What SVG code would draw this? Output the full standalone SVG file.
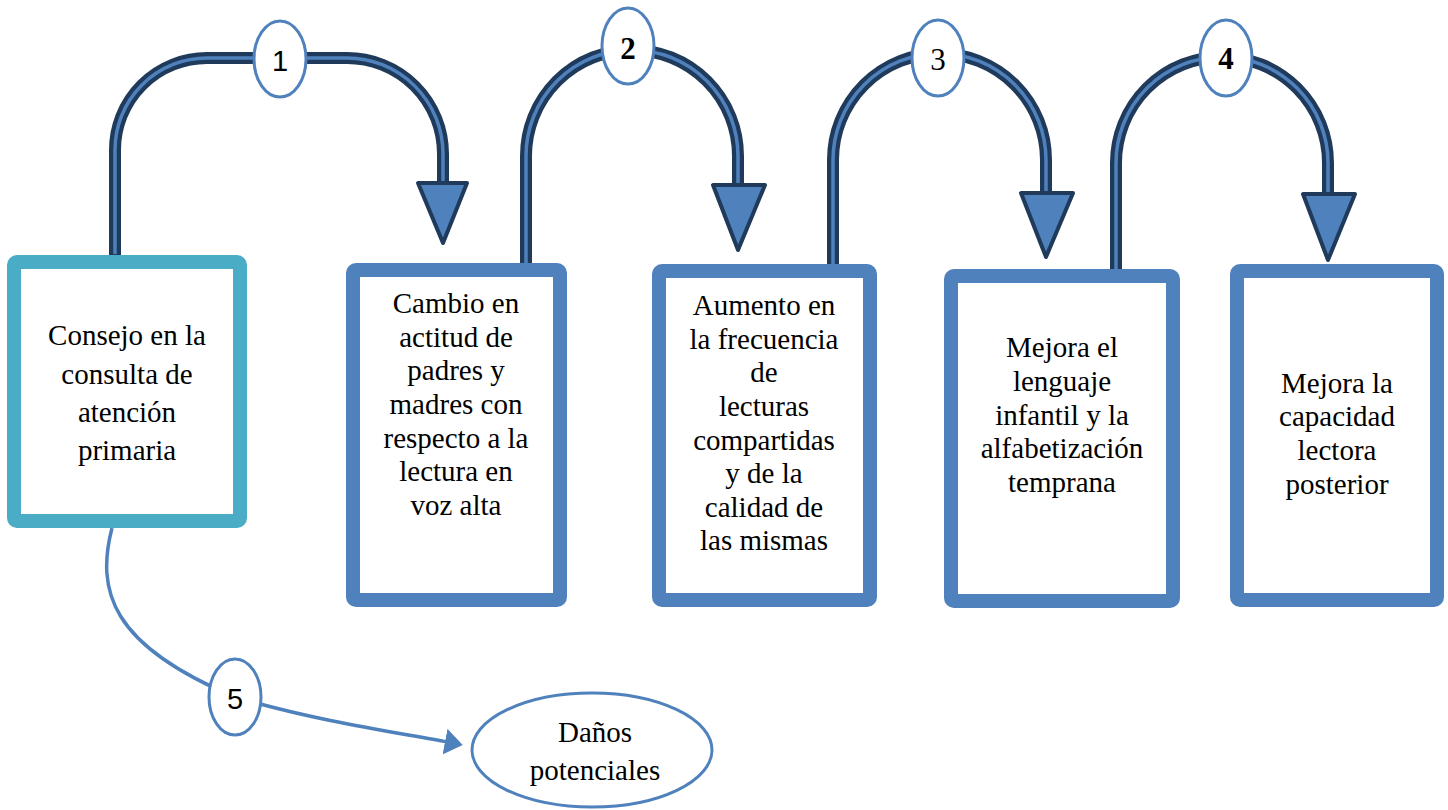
<svg xmlns="http://www.w3.org/2000/svg" width="1448" height="810" viewBox="0 0 1448 810">
<style>
.shaft{fill:none;stroke:#1F3A5A;stroke-width:12;}
.core{fill:none;stroke:#4F81BD;stroke-width:3.5;}
.head{fill:#4F81BD;stroke:#1F3A5A;stroke-width:4;stroke-linejoin:round;}
.box{fill:#fff;stroke:#4F81BD;stroke-width:14;}
.box1{fill:#fff;stroke:#4BACC6;stroke-width:14;}
.badge{fill:#fff;stroke:#4F81BD;stroke-width:3;}
.t{font-family:"Liberation Serif","Times New Roman",serif;font-size:29px;fill:#000;text-anchor:middle;}
.ns{font-family:"Liberation Sans",Arial,sans-serif;font-size:29px;fill:#000;text-anchor:middle;}
.nb{font-family:"Liberation Serif","Times New Roman",serif;font-size:31px;font-weight:bold;fill:#000;text-anchor:middle;}
.nr{font-family:"Liberation Serif","Times New Roman",serif;font-size:31px;fill:#000;text-anchor:middle;}
.thin{fill:none;stroke:#4F81BD;stroke-width:3.5;}
</style>
<defs>
<marker id="ah" markerUnits="userSpaceOnUse" viewBox="0 0 18 26" markerWidth="18" markerHeight="26" refX="2" refY="13" orient="auto">
<path d="M0,0 L18,13 L0,26 z" fill="#4F81BD"/>
</marker>
</defs>
<rect width="1448" height="810" fill="#fff"/>
<g id="connectors">
<path class="shaft" d="M115,256 L115,150 A92,92 0 0 1 207,58 L347,58 A96,96 0 0 1 443,154 L443,186"/>
<path class="core" d="M115,254 L115,150 A92,92 0 0 1 207,58 L347,58 A96,96 0 0 1 443,154 L443,186"/>
<polygon class="head" points="418,183 467,183 443,243"/>
<path class="shaft" d="M526,265 L526,156 A106,106 0 0 1 738,156 L738,188"/>
<path class="core" d="M526,263 L526,156 A106,106 0 0 1 738,156 L738,188"/>
<polygon class="head" points="713,185 765,185 738,250"/>
<path class="shaft" d="M833,267 L833,160 A106.5,106.5 0 0 1 1046,160 L1046,196"/>
<path class="core" d="M833,265 L833,160 A106.5,106.5 0 0 1 1046,160 L1046,196"/>
<polygon class="head" points="1021,193 1073,193 1046,257"/>
<path class="shaft" d="M1116,271 L1116,163 A106,106 0 0 1 1328,163 L1328,197"/>
<path class="core" d="M1116,269 L1116,163 A106,106 0 0 1 1328,163 L1328,197"/>
<polygon class="head" points="1303,194 1355,194 1328,260"/>
<path class="thin" d="M112,528 C96,590 110,645 235,697 C320,722 400,733 447,742" marker-end="url(#ah)"/>
</g>
<g id="labels">
<g id="label1"><ellipse class="badge" cx="280" cy="59" rx="26" ry="38"/><text class="ns" x="280" y="71">1</text></g>
<g id="label2"><ellipse class="badge" cx="628" cy="46" rx="26" ry="38"/><text class="nb" x="628" y="59">2</text></g>
<g id="label3"><ellipse class="badge" cx="938" cy="58" rx="26" ry="38"/><text class="nr" x="938" y="70">3</text></g>
<g id="label4"><ellipse class="badge" cx="1226" cy="58" rx="26" ry="38"/><text class="nb" x="1226" y="69">4</text></g>
<g id="label5"><ellipse class="badge" cx="235" cy="697" rx="26" ry="38"/><text class="ns" x="235" y="709">5</text></g>
</g>
<g id="node1">
<rect class="box1" x="14" y="262" width="226" height="259" rx="3"/>
<text class="t" x="127" y="345">Consejo en la</text>
<text class="t" x="127" y="383.5">consulta de</text>
<text class="t" x="127" y="422">atención</text>
<text class="t" x="127" y="460">primaria</text>
</g>
<g id="node2">
<rect class="box" x="353" y="270" width="207" height="330" rx="3"/>
<text class="t" x="456" y="313">Cambio en</text>
<text class="t" x="456" y="347">actitud de</text>
<text class="t" x="456" y="380">padres y</text>
<text class="t" x="456" y="414">madres con</text>
<text class="t" x="456" y="448">respecto a la</text>
<text class="t" x="456" y="481">lectura en</text>
<text class="t" x="456" y="515">voz alta</text>
</g>
<g id="node3">
<rect class="box" x="659" y="271" width="211" height="329" rx="3"/>
<text class="t" x="764" y="315">Aumento en</text>
<text class="t" x="764" y="348.5">la frecuencia</text>
<text class="t" x="764" y="382">de</text>
<text class="t" x="764" y="416">lecturas</text>
<text class="t" x="764" y="449.5">compartidas</text>
<text class="t" x="764" y="483">y de la</text>
<text class="t" x="764" y="517">calidad de</text>
<text class="t" x="764" y="550">las mismas</text>
</g>
<g id="node4">
<rect class="box" x="951" y="276" width="222" height="325" rx="3"/>
<text class="t" x="1062" y="357">Mejora el</text>
<text class="t" x="1062" y="391">lenguaje</text>
<text class="t" x="1062" y="424.5">infantil y la</text>
<text class="t" x="1062" y="458">alfabetización</text>
<text class="t" x="1062" y="492">temprana</text>
</g>
<g id="node5">
<rect class="box" x="1237" y="271" width="200" height="329" rx="3"/>
<text class="t" x="1337" y="393">Mejora la</text>
<text class="t" x="1337" y="426">capacidad</text>
<text class="t" x="1337" y="460">lectora</text>
<text class="t" x="1337" y="494">posterior</text>
</g>
<g id="node6">
<ellipse class="badge" cx="592" cy="750" rx="120" ry="57"/>
<text class="t" x="595" y="742">Daños</text>
<text class="t" x="595" y="780">potenciales</text>
</g>
</svg>
